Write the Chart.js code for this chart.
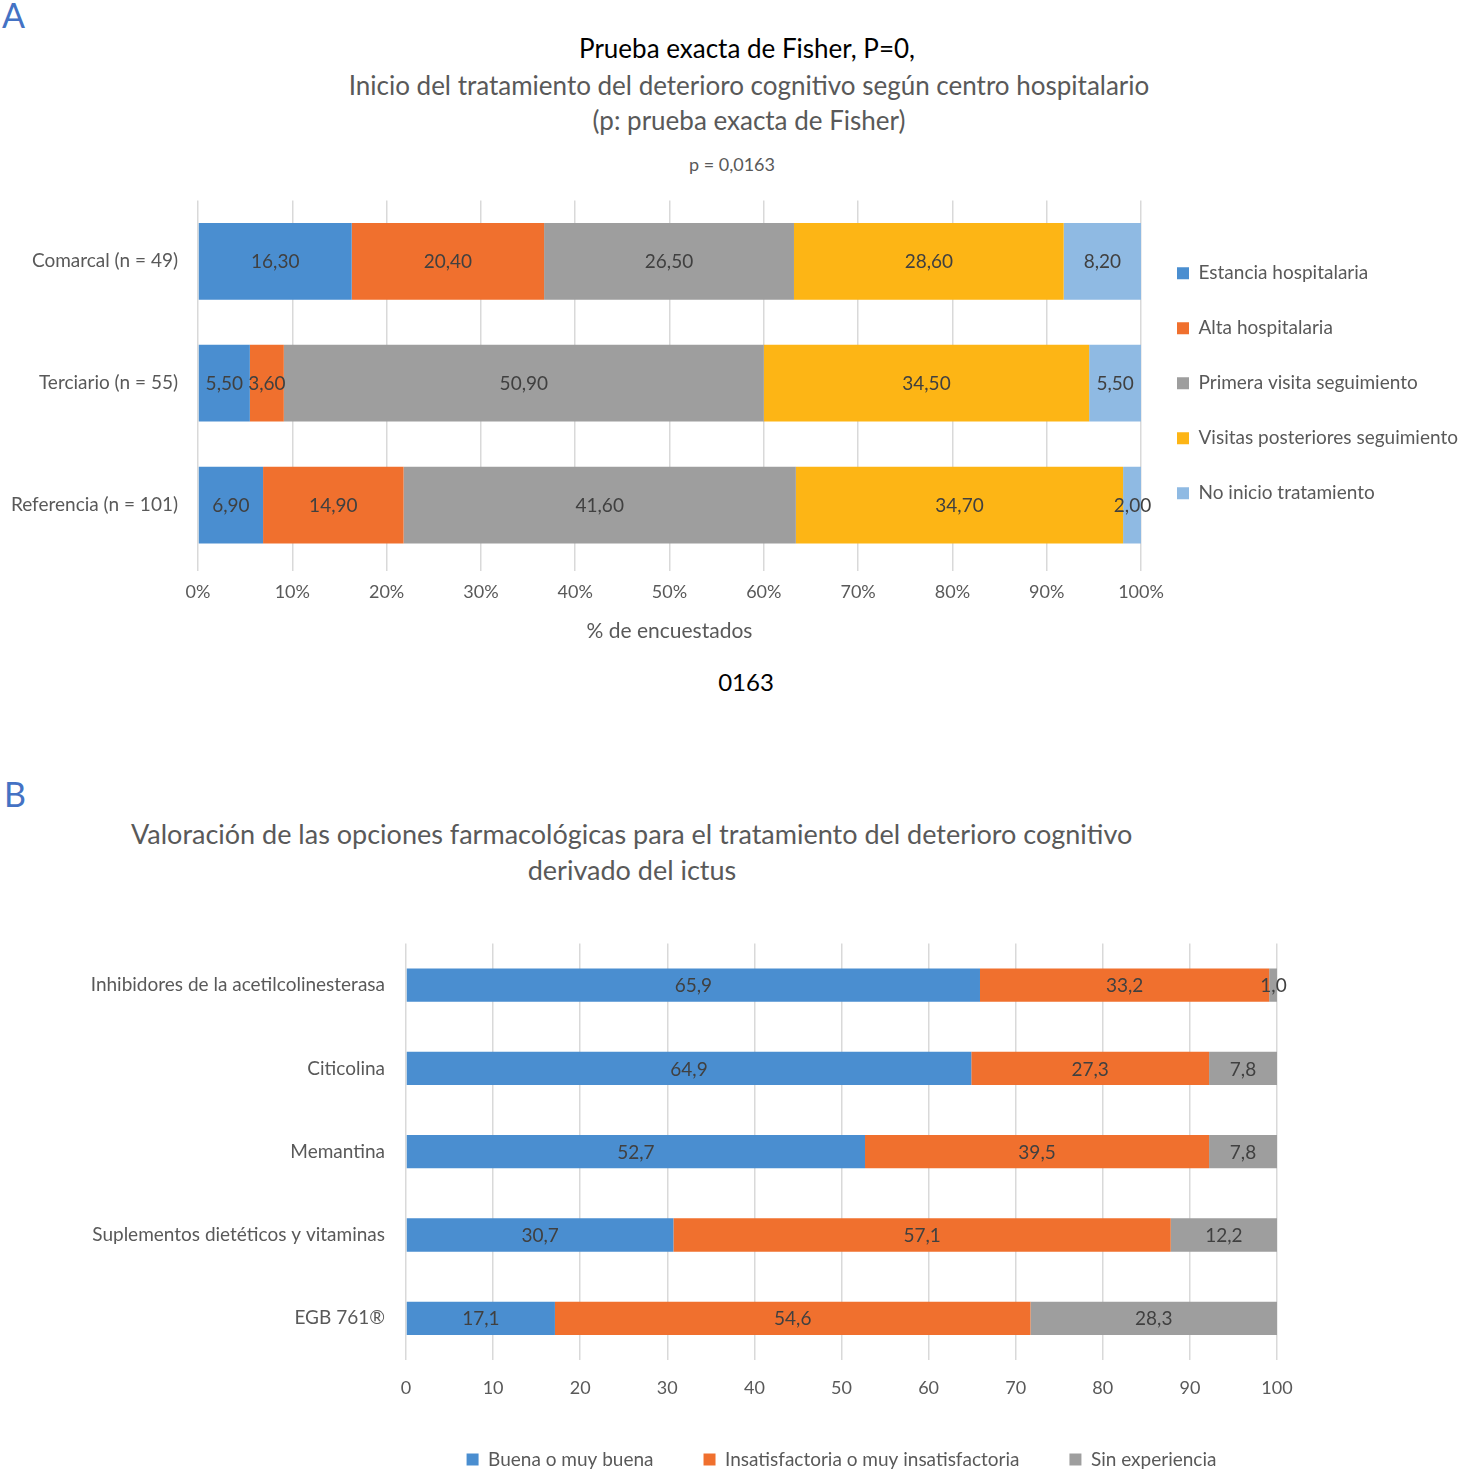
<!DOCTYPE html>
<html>
<head>
<meta charset="utf-8">
<script src="https://cdn.jsdelivr.net/npm/chart.js@4.4.0/dist/chart.umd.min.js"></script>
<style>
  html, body { margin: 0; padding: 0; background: #fff; overflow: hidden; width: 1480px; height: 1475px; }
  body { position: relative; font-family: Lato, sans-serif; }
  .txt { position: absolute; white-space: nowrap; line-height: 1; }
  .center { text-align: center; }
  canvas { position: absolute; left: 0; }
</style>
</head>
<body>
<div class="txt" style="left:2px;top:-2px;font-size:34px;color:#4472C4;">A</div>
<div class="txt center" style="left:247px;width:1000px;top:35px;font-size:26px;color:#000;">Prueba exacta de Fisher, P=0,</div>
<div class="txt center" style="left:249px;width:1000px;top:72px;font-size:26px;color:#595959;">Inicio del tratamiento del deterioro cognitivo según centro hospitalario</div>
<div class="txt center" style="left:249px;width:1000px;top:107px;font-size:26px;color:#595959;">(p: prueba exacta de Fisher)</div>
<div class="txt center" style="left:232px;width:1000px;top:155px;font-size:18px;color:#595959;">p = 0,0163</div>
<canvas id="chartA" width="1480" height="475" style="top:169px;width:1480px;height:475px;"></canvas>
<div class="txt center" style="left:246px;width:1000px;top:670px;font-size:24px;color:#000;">0163</div>

<div class="txt" style="left:4px;top:777px;font-size:34px;color:#4472C4;">B</div>
<div class="txt center" style="left:131px;width:1000px;top:820px;font-size:27px;color:#595959;">Valoración de las opciones farmacológicas para el tratamiento del deterioro cognitivo</div>
<div class="txt center" style="left:132px;width:1000px;top:856px;font-size:27px;color:#595959;">derivado del ictus</div>
<canvas id="chartB" width="1480" height="568" style="top:911px;width:1480px;height:568px;"></canvas>

<script>
// Panel A: momento de inicio del tratamiento segun centro (%)
const centros = ['Comarcal (n = 49)', 'Terciario (n = 55)', 'Referencia (n = 101)'];
const momentos = ['Estancia hospitalaria', 'Alta hospitalaria', 'Primera visita seguimiento', 'Visitas posteriores seguimiento', 'No inicio tratamiento'];
const estancia = [16.3, 5.5, 6.9];
const alta = [20.4, 3.6, 14.9];
const primeraVisita = [26.5, 50.9, 41.6];
const visitasPosteriores = [28.6, 34.5, 34.7];
const noInicio = [8.2, 5.5, 2.0];
const coloresA = ['#4A8ED0', '#F0702E', '#9E9E9E', '#FDB515', '#8FBAE3'];

// Panel B: valoracion de opciones farmacologicas (%)
const farmacos = ['Inhibidores de la acetilcolinesterasa', 'Citicolina', 'Memantina', 'Suplementos dietéticos y vitaminas', 'EGB 761®'];
const valoraciones = ['Buena o muy buena', 'Insatisfactoria o muy insatisfactoria', 'Sin experiencia'];
const buena = [65.9, 64.9, 52.7, 30.7, 17.1];
const insatisfactoria = [33.2, 27.3, 39.5, 57.1, 54.6];
const sinExperiencia = [1.0, 7.8, 7.8, 12.2, 28.3];
const coloresB = ['#4A8ED0', '#F0702E', '#9E9E9E'];

Chart.defaults.font.family = 'Lato';
Chart.defaults.color = '#595959';

// write each value in the middle of its segment
const etiquetas = {
  id: 'etiquetas',
  afterDatasetsDraw(chart, args, opts) {
    const ctx = chart.ctx;
    ctx.save();
    ctx.font = '19px Lato';
    ctx.fillStyle = '#404040';
    ctx.textAlign = 'center';
    ctx.textBaseline = 'middle';
    chart.data.datasets.forEach((ds, i) => {
      chart.getDatasetMeta(i).data.forEach((bar, j) => {
        const p = bar.getProps(['x', 'base', 'y'], true);
        const txt = ds.data[j].toFixed(opts.decimals).replace('.', ',');
        ctx.fillText(txt, (p.x + p.base) / 2, p.y + 1);
      });
    });
    ctx.restore();
  }
};

function makeDatasets(labels, series, colors, pct) {
  return labels.map((lbl, i) => ({
    label: lbl,
    data: series[i],
    backgroundColor: colors[i],
    borderWidth: 0,
    barPercentage: pct,
    categoryPercentage: 1
  }));
}

// right legend of A: leave room so the plot ends at x = 1141
const legendFontA = 19;
const legendPadA = 36;
const mctx = document.createElement('canvas').getContext('2d');
mctx.font = legendFontA + 'px Lato';
const widestA = Math.max(...momentos.map(t => mctx.measureText(t).width));
const legendWidthA = 12 + legendFontA / 2 + widestA + legendPadA + 10;
const padRightA = Math.max(0, 1480 - 1141 - legendWidthA);

new Chart(document.getElementById('chartA'), {
  type: 'bar',
  data: {
    labels: centros,
    datasets: makeDatasets(momentos, [estancia, alta, primeraVisita, visitasPosteriores, noInicio], coloresA, 0.63)
  },
  options: {
    indexAxis: 'y',
    responsive: false,
    animation: false,
    layout: { padding: { left: 0, top: 31, right: padRightA, bottom: 0 } },
    plugins: {
      tooltip: { enabled: false },
      etiquetas: { decimals: 2 },
      legend: {
        position: 'right',
        fullSize: false,
        labels: { boxWidth: 12, boxHeight: 12, padding: legendPadA, color: '#595959', font: { size: legendFontA } }
      }
    },
    scales: {
      x: {
        stacked: true,
        min: 0,
        max: 100,
        ticks: { stepSize: 10, padding: 10, font: { size: 18 }, callback: v => v + '%' },
        grid: { color: '#D9D9D9', lineWidth: 1.5, tickLength: 5 },
        border: { display: false },
        title: { display: true, text: '% de encuestados', font: { size: 21 }, color: '#595959', padding: 0 },
        afterFit: s => { s.height = 78; }
      },
      y: {
        stacked: true,
        ticks: { padding: 20, font: { size: 19 }, autoSkip: false },
        grid: { display: false, drawTicks: false },
        border: { display: false },
        afterFit: s => { s.width = 198; }
      }
    }
  },
  plugins: [etiquetas]
});

new Chart(document.getElementById('chartB'), {
  type: 'bar',
  data: {
    labels: farmacos,
    datasets: makeDatasets(valoraciones, [buena, insatisfactoria, sinExperiencia], coloresB, 0.40)
  },
  options: {
    indexAxis: 'y',
    responsive: false,
    animation: false,
    layout: { padding: { left: 0, top: 32, right: 203, bottom: 0 } },
    plugins: {
      tooltip: { enabled: false },
      etiquetas: { decimals: 1 },
      legend: {
        position: 'bottom',
        fullSize: false,
        labels: { boxWidth: 12, boxHeight: 12, padding: 50, color: '#595959', font: { size: 19 } }
      }
    },
    scales: {
      x: {
        stacked: true,
        min: 0,
        max: 100,
        ticks: { stepSize: 10, padding: 17, font: { size: 18 } },
        grid: { color: '#D9D9D9', lineWidth: 1.5, drawTicks: false },
        border: { display: false },
        afterFit: s => { s.height = 40; }
      },
      y: {
        stacked: true,
        ticks: { padding: 21, font: { size: 19 }, autoSkip: false },
        grid: { display: false, drawTicks: false },
        border: { display: false },
        afterFit: s => { s.width = 406; }
      }
    }
  },
  plugins: [etiquetas]
});
</script>
</body>
</html>
